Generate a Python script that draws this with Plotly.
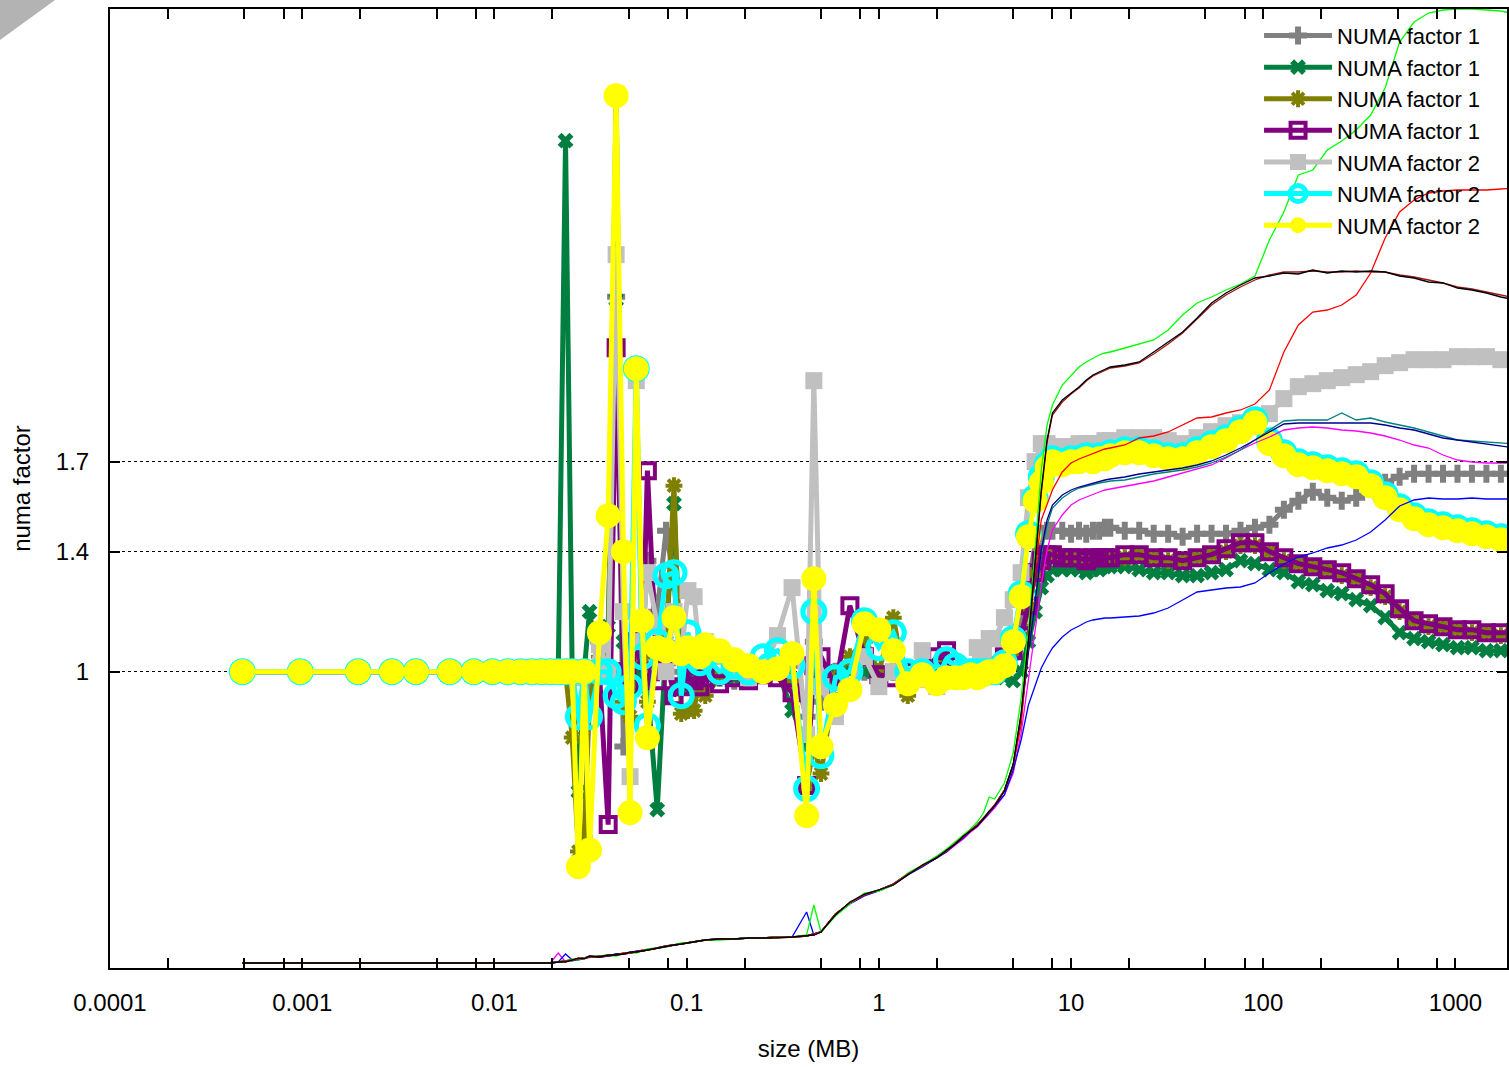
import plotly.graph_objects as go

# ---------------- data ----------------
sizes_kb = [0.5, 1, 2, 3, 4, 6, 8, 10, 12, 14,
            16, 18, 20, 22, 24, 26, 28, 30,
            32, 36, 40, 44, 48, 52, 56, 60,
            64, 72, 80, 88, 96, 104, 112, 120,
            128, 152, 181, 215, 256, 304, 362, 431, 470, 512, 609, 724, 861, 1024, 1218, 1448, 1722,
            2048, 2304, 2560, 2816, 3072, 3328, 3584, 3840, 4096, 4608, 5120, 5632, 6144, 6656, 7168, 7680,
            8192, 9216, 10240, 11264, 12288, 13312, 14336, 15360,
            16384, 19484, 23170, 27554, 32768, 38968, 46341, 55109, 65536, 77936, 92682, 110218,
            131072, 155872, 185364, 220436, 262144, 311744, 370728, 440872, 524288, 623487, 741455,
            881744, 1048576, 1246974, 1482910, 1763488, 2097152]

numa1_gray = [1.0, 1.0, 1.0, 1.0, 1.0, 1.0, 1.0, 1.0, 1.0, 1.0,
              1.0, 1.0, 1.0, 1.0, 1.0, 1.0, 1.0, 1.0,
              0.95, 1.1, 1.0, 2.25, 0.75, 0.95, 1.1, 1.05,
              1.37, 1.2, 1.47, 1.3, 1.0, 1.05, 1.0, 1.02,
              1.0, 0.98, 0.97, 0.99, 1.0, 1.0, 1.02, 0.85, 1.1, 0.9, 1.0, 1.02, 1.0, 0.99, 1.0, 0.98, 1.0,
              0.99, 1.0, 1.0, 0.99, 1.0, 1.0, 1.0, 1.0, 1.0, 1.0, 1.05, 1.15, 1.3, 1.42, 1.46, 1.47,
              1.47, 1.47, 1.46, 1.47, 1.46, 1.47, 1.47, 1.48,
              1.48, 1.47, 1.47, 1.46, 1.46, 1.45, 1.46, 1.46, 1.46, 1.47, 1.48, 1.49,
              1.54, 1.57, 1.6, 1.58, 1.57, 1.58, 1.61, 1.63, 1.65, 1.66, 1.66,
              1.66, 1.66, 1.66, 1.66, 1.66, 1.66]

numa1_green = [1.0, 1.0, 1.0, 1.0, 1.0, 1.0, 1.0, 1.0, 1.0, 1.0,
               1.0, 1.0, 1.0, 1.0, 2.77, 1.0, 0.6, 1.0,
               1.2, 1.0, 1.15, 2.24, 1.1, 0.95, 1.0, 1.0,
               0.95, 0.54, 1.1, 1.56, 0.95, 1.0, 1.0, 1.0,
               1.0, 0.99, 0.98, 0.99, 1.0, 1.0, 0.87, 0.75, 1.05, 0.95, 1.0, 1.0, 1.0, 0.99, 1.0, 0.98, 1.0,
               0.99, 1.0, 1.0, 0.99, 1.0, 1.0, 0.99, 1.0, 0.99, 0.98, 0.97, 1.0, 1.1, 1.2, 1.28, 1.32,
               1.34, 1.34, 1.34, 1.34, 1.33, 1.34, 1.34, 1.35,
               1.35, 1.35, 1.34, 1.33, 1.33, 1.32, 1.32, 1.33, 1.34, 1.37, 1.36, 1.34,
               1.33, 1.3, 1.29, 1.27, 1.26, 1.24, 1.22, 1.18, 1.13, 1.11, 1.1,
               1.09, 1.08, 1.08, 1.07, 1.07, 1.07]

numa1_olive = [1.0, 1.0, 1.0, 1.0, 1.0, 1.0, 1.0, 1.0, 1.0, 1.0,
               1.0, 1.0, 1.0, 1.0, 1.0, 0.78, 0.4, 0.45,
               0.9, 1.05, 1.0, 2.93, 0.9, 0.85, 1.1, 1.05,
               0.9, 1.0, 1.1, 1.62, 0.86, 0.87, 0.87, 1.0,
               0.92, 0.98, 1.0, 0.98, 0.99, 1.0, 0.97, 0.62, 0.75, 0.66, 0.98, 1.05, 1.1, 1.0, 1.18, 0.92, 1.0,
               1.02, 1.0, 0.99, 0.99, 0.99, 0.99, 0.99, 1.0, 1.0, 1.03, 1.06, 1.11, 1.21, 1.32, 1.36, 1.38,
               1.39, 1.38, 1.38, 1.38, 1.37, 1.38, 1.38, 1.38,
               1.38, 1.38, 1.39, 1.38, 1.37, 1.37, 1.38, 1.39, 1.4, 1.42, 1.42, 1.4,
               1.37, 1.36, 1.35, 1.34, 1.32, 1.31, 1.28, 1.25, 1.2, 1.17, 1.15,
               1.15, 1.14, 1.13, 1.13, 1.12, 1.12]

numa1_purple = [1.0, 1.0, 1.0, 1.0, 1.0, 1.0, 1.0, 1.0, 1.0, 1.0,
                1.0, 1.0, 1.0, 1.0, 1.0, 1.0, 1.0, 1.0,
                1.0, 1.0, 0.49, 2.08, 1.0, 0.95, 1.1, 1.0,
                1.67, 0.97, 1.05, 0.92, 0.95, 0.98, 0.97, 0.95,
                0.98, 0.96, 0.98, 0.97, 0.99, 0.98, 0.93, 0.62, 1.02, 1.05, 0.95, 1.22, 1.05, 0.99, 0.98, 1.0, 0.98,
                1.05, 1.07, 1.0, 0.99, 0.99, 0.99, 0.99, 0.99, 1.02, 1.05, 1.07, 1.12, 1.22, 1.33, 1.37, 1.39,
                1.39, 1.38, 1.38, 1.38, 1.37, 1.38, 1.38, 1.38,
                1.38, 1.39, 1.39, 1.38, 1.38, 1.37, 1.38, 1.39, 1.41, 1.43, 1.43, 1.4,
                1.38, 1.36, 1.35, 1.34, 1.33, 1.31, 1.29, 1.26, 1.21, 1.17, 1.16,
                1.15, 1.14, 1.14, 1.13, 1.13, 1.13]

numa2_lgray = [1.0, 1.0, 1.0, 1.0, 1.0, 1.0, 1.0, 1.0, 1.0, 1.0,
               1.0, 1.0, 1.0, 1.0, 1.0, 1.0, 0.98, 1.0,
               1.0, 1.09, 1.0, 2.39, 1.2, 0.65, 1.97, 1.1,
               1.33, 1.15, 1.0, 1.2, 1.05, 1.27, 1.25, 1.05,
               1.1, 1.05, 1.0, 0.98, 1.0, 1.12, 1.28, 0.79, 1.97, 0.95, 0.85, 0.95, 1.05, 0.95, 1.0, 0.97, 1.07,
               0.95, 0.98, 0.99, 0.98, 1.0, 1.08, 1.06, 1.11, 1.11, 1.18, 1.24, 1.33, 1.58, 1.7, 1.76, 1.76,
               1.75, 1.75, 1.75, 1.76, 1.76, 1.76, 1.76, 1.77,
               1.77, 1.78, 1.78, 1.78, 1.77, 1.76, 1.78, 1.8, 1.82, 1.83, 1.84, 1.86,
               1.91, 1.95, 1.96, 1.97, 1.98, 1.99, 2.0, 2.02, 2.03, 2.04, 2.04,
               2.04, 2.05, 2.05, 2.05, 2.04, 2.04]

numa2_cyan = [1.0, 1.0, 1.0, 1.0, 1.0, 1.0, 1.0, 1.0, 1.0, 1.0,
              1.0, 1.0, 1.0, 1.0, 1.0, 1.0, 0.85, 1.0,
              0.85, 1.0, 1.0, 0.92, 0.9, 0.95, 2.01, 1.05,
              0.82, 1.1, 1.32, 1.33, 0.92, 1.13, 1.05, 1.03,
              1.05, 1.0, 1.02, 1.0, 1.05, 1.07, 1.02, 0.61, 1.2, 0.72, 0.98, 1.0, 1.17, 1.08, 1.13, 1.0, 1.0,
              0.98, 1.04, 1.02, 1.0, 1.0, 1.0, 1.0, 1.0, 1.0, 1.03, 1.11, 1.26, 1.46, 1.58, 1.65, 1.69,
              1.71, 1.7, 1.71, 1.71, 1.72, 1.71, 1.72, 1.72,
              1.73, 1.74, 1.74, 1.73, 1.72, 1.72, 1.74, 1.76, 1.78, 1.81, 1.84, 1.77,
              1.73, 1.7, 1.69, 1.68, 1.67, 1.66, 1.63, 1.59, 1.55, 1.52, 1.5,
              1.49, 1.48, 1.47, 1.46, 1.45, 1.45]

numa2_yellow = [1.0, 1.0, 1.0, 1.0, 1.0, 1.0, 1.0, 1.0, 1.0, 1.0,
                1.0, 1.0, 1.0, 1.0, 1.0, 1.0, 0.35, 1.0,
                0.405, 1.13, 1.52, 2.92, 1.4, 0.53, 2.01, 1.17,
                0.78, 1.08, 1.07, 1.18, 1.06, 1.08, 1.07, 1.05,
                1.09, 1.07, 1.04, 1.02, 1.0, 1.01, 1.06, 0.52, 1.31, 0.75, 0.89, 0.94, 1.16, 1.14, 1.07, 0.96, 0.99,
                0.96, 0.98, 0.98, 0.98, 0.99, 0.98, 0.99, 1.0, 1.0, 1.02, 1.1, 1.25, 1.45, 1.57, 1.63, 1.68,
                1.7, 1.69, 1.7, 1.7, 1.71, 1.7, 1.71, 1.71,
                1.72, 1.73, 1.73, 1.72, 1.71, 1.71, 1.73, 1.75, 1.77, 1.8, 1.83, 1.76,
                1.72, 1.69, 1.68, 1.67, 1.66, 1.65, 1.62, 1.58, 1.54, 1.51, 1.49,
                1.48, 1.47, 1.46, 1.45, 1.44, 1.44]

# unlabelled thin curves (secondary, hidden scale)
bw_black = [0.5, 0.5, 0.5, 0.5, 0.5, 0.5, 0.5, 0.5, 0.5, 0.5,
            0.5, 0.5, 0.5, 0.6, 0.6, 0.8, 1.0, 0.9,
            1.2, 1.1, 1.3, 1.3, 1.4, 1.6, 1.6, 1.7,
            1.8, 2.0, 2.2, 2.3, 2.4, 2.5, 2.6, 2.7,
            2.8, 2.9, 2.9, 3.0, 3.0, 3.0, 3.1, 3.2, 3.3, 3.6, 5.3, 6.6, 7.4, 7.8, 8.3, 9.3, 10.3,
            11.0, 11.8, 12.4, 13.2, 13.7, 14.2, 14.9, 15.7, 16.2, 17.7, 20.4, 25.5, 32.8, 40.3, 47.8, 52.8,
            55.5, 56.8, 57.5, 58.1, 58.8, 59.3, 59.6, 59.9,
            60.1, 60.3, 60.6, 61.6, 62.6, 63.6, 65.0, 66.5, 67.5, 68.3, 69.0, 69.2,
            69.5, 69.4, 69.8, 69.5, 69.7, 69.6, 69.7, 69.6, 69.2, 69.0, 68.6,
            68.5, 68.0, 67.8, 67.5, 67.1, 66.8]

bw_darkred = [0.5, 0.5, 0.5, 0.5, 0.5, 0.5, 0.5, 0.5, 0.5, 0.5,
              0.5, 0.5, 0.5, 0.6, 0.7, 0.8, 0.9, 1.0,
              1.1, 1.2, 1.2, 1.3, 1.4, 1.5, 1.6, 1.7,
              1.8, 2.0, 2.2, 2.3, 2.4, 2.5, 2.6, 2.7,
              2.8, 2.9, 2.9, 3.0, 3.0, 3.1, 3.1, 3.2, 3.4, 3.6, 5.4, 6.5, 7.3, 7.8, 8.4, 9.4, 10.2,
              11.1, 11.7, 12.5, 13.1, 13.8, 14.3, 15.0, 15.6, 16.3, 17.8, 20.3, 25.3, 32.5, 40.0, 47.5, 52.6,
              55.3, 56.6, 57.4, 58.0, 58.7, 59.2, 59.5, 59.8,
              60.0, 60.2, 60.5, 61.4, 62.4, 63.5, 64.9, 66.3, 67.3, 68.1, 68.8, 69.3,
              69.6, 69.6, 69.7, 69.6, 69.6, 69.7, 69.6, 69.6, 69.3, 69.1, 68.8,
              68.5, 68.1, 67.9, 67.6, 67.3, 67.0]

bw_green = [0.5, 0.5, 0.5, 0.5, 0.5, 0.5, 0.5, 0.5, 0.5, 0.5,
            0.5, 0.5, 0.5, 0.6, 0.7, 0.9, 0.8, 1.0,
            1.1, 1.2, 1.3, 1.2, 1.4, 1.6, 1.5, 1.7,
            1.9, 2.0, 2.1, 2.3, 2.5, 2.5, 2.6, 2.7,
            2.8, 2.8, 2.9, 3.0, 3.0, 3.1, 3.1, 3.3, 6.3, 3.6, 5.2, 6.4, 7.5, 7.7, 8.3, 9.5, 10.3,
            11.2, 11.9, 12.6, 13.3, 13.9, 14.6, 15.5, 17.1, 16.9, 18.5, 21.5, 27.0, 33.8, 41.8, 49.8, 54.3,
            56.3, 58.3, 59.3, 60.1, 60.6, 61.0, 61.3, 61.5,
            61.6, 62.0, 62.4, 62.8, 63.8, 65.3, 66.5, 67.1, 67.8, 68.4, 69.2, 72.8,
            75.6, 79.3, 79.8, 81.8, 82.7, 83.8, 85.3, 88.0, 92.6, 94.6, 95.5,
            95.8, 95.9, 95.9, 95.8, 95.7, 95.4]

bw_red = [0.5, 0.5, 0.5, 0.5, 0.5, 0.5, 0.5, 0.5, 0.5, 0.5,
          0.5, 0.5, 0.5, 0.6, 0.7, 0.8, 0.9, 1.0,
          1.1, 1.1, 1.3, 1.3, 1.5, 1.5, 1.6, 1.8,
          1.8, 2.0, 2.2, 2.3, 2.4, 2.5, 2.6, 2.7,
          2.8, 2.9, 2.9, 3.0, 3.0, 3.1, 3.1, 3.2, 3.4, 3.6, 5.4, 6.5, 7.3, 7.8, 8.4, 9.4, 10.2,
          11.1, 11.7, 12.5, 13.1, 13.8, 14.3, 15.0, 15.6, 16.3, 17.8, 20.3, 24.3, 32.8, 39.8, 44.8, 46.3,
          47.8, 49.6, 50.5, 50.9, 51.2, 51.4, 51.7, 51.9,
          52.0, 52.3, 53.0, 53.2, 53.6, 54.3, 55.0, 55.1, 55.5, 55.8, 56.4, 57.8,
          61.6, 64.3, 65.6, 65.8, 66.3, 67.3, 69.5, 73.0, 75.6, 76.8, 77.5,
          77.7, 77.8, 77.8, 77.8, 77.9, 78.0]

bw_teal = [0.5, 0.5, 0.5, 0.5, 0.5, 0.5, 0.5, 0.5, 0.5, 0.5,
           0.5, 0.5, 0.5, 0.6, 0.7, 0.7, 0.9, 1.0,
           1.1, 1.2, 1.2, 1.3, 1.5, 1.5, 1.6, 1.7,
           1.8, 2.0, 2.2, 2.3, 2.4, 2.5, 2.6, 2.7,
           2.8, 2.9, 2.9, 3.0, 3.0, 3.1, 3.1, 3.2, 3.4, 3.6, 5.4, 6.5, 7.3, 7.8, 8.4, 9.4, 10.2,
           11.1, 11.7, 12.5, 13.1, 13.8, 14.3, 15.0, 15.6, 16.3, 17.8, 20.3, 25.3, 31.8, 36.8, 41.3, 44.3,
           46.0, 47.0, 47.6, 48.0, 48.2, 48.4, 48.5, 48.6,
           48.7, 48.8, 49.1, 49.4, 49.6, 49.8, 50.1, 50.5, 51.1, 51.8, 52.8, 53.8,
           54.7, 54.8, 54.8, 54.8, 55.5, 54.8, 55.0, 54.6, 54.3, 54.0, 53.6,
           53.2, 52.8, 52.7, 52.6, 52.5, 52.4]

bw_navy = [0.5, 0.5, 0.5, 0.5, 0.5, 0.5, 0.5, 0.5, 0.5, 0.5,
           0.5, 0.5, 0.5, 0.6, 0.7, 0.8, 0.8, 1.0,
           1.1, 1.1, 1.2, 1.4, 1.4, 1.5, 1.6, 1.7,
           1.8, 2.0, 2.2, 2.3, 2.4, 2.5, 2.6, 2.7,
           2.8, 2.9, 2.9, 3.0, 3.0, 3.1, 3.1, 3.2, 3.4, 3.6, 5.4, 6.5, 7.3, 7.8, 8.4, 9.4, 10.2,
           11.0, 11.7, 12.4, 13.1, 13.7, 14.3, 14.9, 15.6, 16.2, 17.7, 20.2, 25.0, 31.5, 36.5, 41.8, 44.8,
           46.3, 47.3, 47.8, 48.1, 48.3, 48.5, 48.7, 48.8,
           48.9, 49.1, 49.4, 49.6, 49.8, 50.0, 50.3, 50.7, 51.3, 52.0, 52.8, 53.6,
           54.4, 54.5, 54.5, 54.5, 54.5, 54.5, 54.5, 54.3, 54.0, 53.8, 53.4,
           53.0, 52.8, 52.6, 52.4, 52.2, 52.0]

bw_magenta = [0.5, 0.5, 0.5, 0.5, 0.5, 0.5, 0.5, 0.5, 0.5, 0.5,
              0.5, 0.5, 0.5, 1.5, 0.6, 0.8, 0.9, 1.0,
              1.1, 1.1, 1.2, 1.3, 1.4, 1.5, 1.6, 1.7,
              1.8, 2.0, 2.2, 2.3, 2.4, 2.5, 2.6, 2.7,
              2.8, 2.9, 2.9, 3.0, 3.0, 3.1, 3.1, 3.2, 3.4, 3.6, 5.4, 6.5, 7.3, 7.8, 8.4, 9.4, 10.2,
              11.0, 11.6, 12.3, 12.9, 13.6, 14.1, 14.8, 15.4, 16.0, 17.3, 19.5, 23.5, 28.8, 33.8, 38.3, 41.8,
              43.8, 45.3, 46.3, 46.8, 47.1, 47.4, 47.6, 47.8,
              47.9, 48.2, 48.4, 48.7, 49.1, 49.5, 49.9, 50.3, 51.0, 51.8, 52.5, 53.1,
              53.8, 54.0, 54.1, 54.0, 53.8, 53.7, 53.5, 53.2, 52.8, 52.3, 52.0,
              51.3, 50.8, 50.6, 50.5, 50.5, 50.5]

bw_blue = [0.5, 0.5, 0.5, 0.5, 0.5, 0.5, 0.5, 0.5, 0.5, 0.5,
           0.5, 0.5, 0.5, 0.6, 1.4, 0.8, 0.9, 1.0,
           1.2, 1.1, 1.2, 1.4, 1.4, 1.5, 1.7, 1.7,
           1.8, 2.0, 2.2, 2.3, 2.4, 2.5, 2.6, 2.7,
           2.8, 2.9, 2.9, 3.0, 3.0, 3.1, 3.1, 5.6, 3.3, 3.6, 5.3, 6.4, 7.2, 7.7, 8.3, 9.3, 10.1,
           11.0, 11.6, 12.4, 13.0, 13.7, 14.2, 14.9, 15.5, 16.2, 17.3, 19.8, 22.8, 26.3, 28.3, 30.0, 31.1,
           32.0, 33.1, 33.8, 34.2, 34.6, 34.8, 34.9, 35.0,
           35.0, 35.1, 35.2, 35.5, 36.0, 36.8, 37.6, 37.8, 38.0, 38.1, 38.5, 39.5,
           40.4, 41.1, 41.5, 42.0, 42.3, 42.8, 43.6, 44.8, 46.2, 46.8, 47.0,
           46.9, 46.9, 47.0, 46.9, 46.9, 46.9]

x_tick_vals = [0.0001, 0.001, 0.01, 0.1, 1, 10, 100, 1000]
x_tick_text = ["0.0001", "0.001", "0.01", "0.1", "1", "10", "100", "1000"]
y_tick_vals = [1, 1.4, 1.7]
y_tick_text = ["1", "1.4", "1.7"]

# ---------------- figure ----------------
size_mb = [s / 1024 for s in sizes_kb]
fig = go.Figure()

thin_series = [(bw_magenta, "#ff00ff"), (bw_blue, "#0000ff"), (bw_teal, "#008080"),
               (bw_navy, "#000090"), (bw_red, "#ff0000"), (bw_green, "#00ff00"),
               (bw_darkred, "#a01818"), (bw_black, "#000000")]
for vals, col in thin_series:
    fig.add_trace(go.Scatter(x=size_mb, y=vals, yaxis="y2", mode="lines",
                             line=dict(color=col, width=1.3), showlegend=False,
                             hoverinfo="skip"))

thick_series = [
    ("NUMA factor 1", numa1_gray, "#808080", dict(symbol="cross", size=15, line=dict(width=0))),
    ("NUMA factor 1", numa1_green, "#007f40", dict(symbol="x", size=14, line=dict(width=0))),
    ("NUMA factor 1", numa1_olive, "#808000", dict(symbol="asterisk-open", size=14,
                                                   line=dict(width=4, color="#808000"))),
    ("NUMA factor 1", numa1_purple, "#800080", dict(symbol="square-open", size=15,
                                                    line=dict(width=4, color="#800080"))),
    ("NUMA factor 2", numa2_lgray, "#c0c0c0", dict(symbol="square", size=17, line=dict(width=0))),
    ("NUMA factor 2", numa2_cyan, "#00ffff", dict(symbol="circle-open", size=22,
                                                  line=dict(width=5, color="#00ffff"))),
    ("NUMA factor 2", numa2_yellow, "#ffff00", dict(symbol="circle", size=25, line=dict(width=0))),
]
for name, vals, col, mk in thick_series:
    mk = dict(mk)
    mk["color"] = col
    fig.add_trace(go.Scatter(x=size_mb, y=vals, name=name, mode="lines+markers",
                             line=dict(color=col, width=5), marker=mk))

minor_vals = []
for k in range(-4, 4):
    for m in (2, 5, 8):
        minor_vals.append(m * 10.0 ** k)

font_family = "Liberation Sans, Arial, sans-serif"
fig.update_layout(
    width=1509, height=1067,
    margin=dict(l=110, r=2, t=9, b=99),
    paper_bgcolor="white", plot_bgcolor="white",
    font=dict(family=font_family, size=24, color="black"),
    xaxis=dict(type="log", range=[-4, 3.268],
               tickmode="array", tickvals=x_tick_vals, ticktext=x_tick_text,
               ticks="inside", ticklen=10, tickwidth=1.5, tickcolor="black",
               showline=True, linecolor="black", linewidth=2, mirror="allticks",
               showgrid=False, zeroline=False, ticklabelstandoff=12,
               minor=dict(tickmode="array", tickvals=minor_vals, ticks="inside",
                          ticklen=5, tickwidth=1.5, tickcolor="black", showgrid=False),
               title=dict(text="size (MB)", standoff=25, font=dict(size=24)),
               tickfont=dict(size=24), automargin=False),
    yaxis=dict(range=[0.012, 3.209], tickmode="array", tickvals=y_tick_vals,
               ticktext=y_tick_text, ticks="inside", ticklen=10, tickwidth=1.5,
               tickcolor="black", showline=True, linecolor="black", linewidth=2,
               mirror="allticks", showgrid=True, gridcolor="black", gridwidth=1,
               griddash="dot", zeroline=False, ticklabelstandoff=14,
               title=dict(text="numa factor", standoff=18, font=dict(size=24)),
               tickfont=dict(size=24), automargin=False),
    yaxis2=dict(overlaying="y", range=[0, 95.9], visible=False),
    legend=dict(x=0.985, xanchor="right", y=0.994, yanchor="top",
                bgcolor="rgba(0,0,0,0)", font=dict(size=22), itemwidth=68,
                tracegroupgap=0),
    shapes=[dict(type="path", xref="paper", yref="paper",
                 path="M -0.0823,1.0146 L -0.0344,1.0146 L -0.0823,0.9639 Z",
                 fillcolor="#b3b3b3", line=dict(width=0), layer="above")],
)

fig.write_html("out.html")
